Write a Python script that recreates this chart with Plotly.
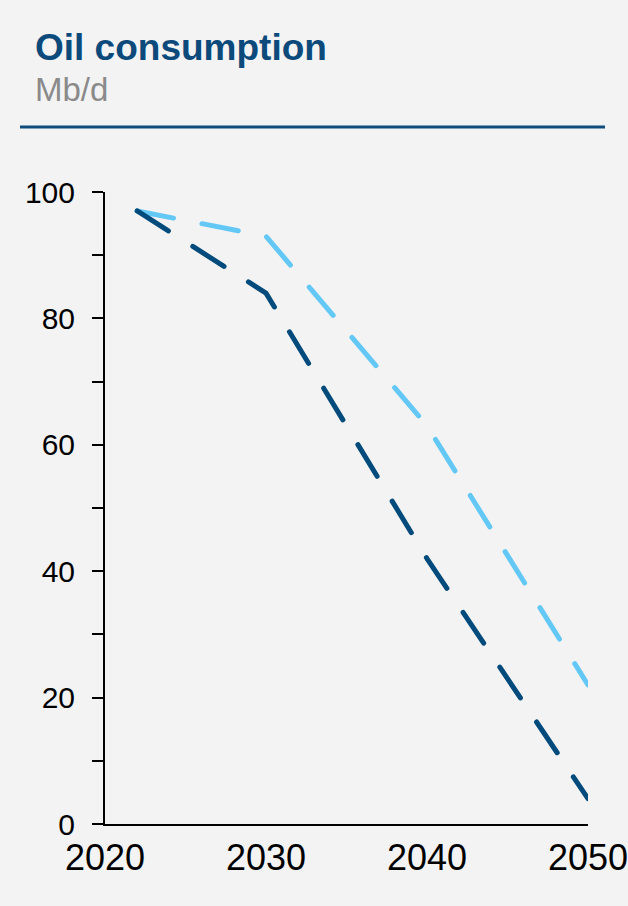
import plotly.graph_objects as go

# ---- data ----
years = [2022, 2030, 2035, 2040, 2045, 2050]
scenario_dark = [97, 84, 63, 42, 23, 4]
scenario_light = [97, 93, 78, 63, 42.5, 22]
x_ticks = [2020, 2030, 2040, 2050]
y_ticks = [0, 20, 40, 60, 80, 100]

title_text = "Oil consumption"
unit_text = "Mb/d"

DARK = "#004A7C"
LIGHT = "#64C8F6"
BG = "#F3F3F3"

W, H = 628, 906
L, R, T, B = 105, 40, 192, 82
PW, PH = W - L - R, H - T - B


def px_x(px):
    return (px - L) / PW


def px_y(py):
    return (H - B - py) / PH


fig = go.Figure()
fig.add_trace(go.Scatter(x=years, y=scenario_light, mode="lines",
                         line=dict(color=LIGHT, width=5, dash="37px,29px"),
                         hoverinfo="skip", showlegend=False))
fig.add_trace(go.Scatter(x=years, y=scenario_dark, mode="lines",
                         line=dict(color=DARK, width=5, dash="37px,29px"),
                         hoverinfo="skip", showlegend=False))

fig.update_layout(
    width=W, height=H, autosize=False,
    margin=dict(l=L, r=R, t=T, b=B, pad=0),
    paper_bgcolor=BG, plot_bgcolor=BG,
    showlegend=False,
    font=dict(family="Liberation Sans, Arial, sans-serif", color="#000000"),
    xaxis=dict(range=[2020, 2050], tickvals=x_ticks, ticktext=[str(v) for v in x_ticks],
               showgrid=False, zeroline=False, showline=True, linecolor="#000000",
               linewidth=2, ticks="", tickfont=dict(size=36, color="#000000"),
               ticklabelstandoff=1, ticklabeloverflow="allow", automargin=False,
               fixedrange=True),
    yaxis=dict(range=[0, 100], tickvals=y_ticks, ticktext=[str(v) for v in y_ticks],
               showgrid=False, zeroline=False, showline=True, linecolor="#000000",
               linewidth=2, ticks="outside", ticklen=11, tickwidth=2, tickcolor="#000000",
               minor=dict(ticks="outside", ticklen=11, tickwidth=2, tickcolor="#000000", dtick=10),
               tickfont=dict(size=30, color="#000000"), ticklabelstandoff=11,
               automargin=False, fixedrange=True),
    shapes=[dict(type="line", xref="paper", yref="paper",
                 x0=px_x(20), x1=px_x(605), y0=px_y(127), y1=px_y(127),
                 line=dict(color="#0E4C7D", width=3))],
    annotations=[
        dict(text="<b>" + title_text + "</b>", xref="paper", yref="paper",
             x=px_x(33), y=px_y(47), xanchor="left", yanchor="middle", showarrow=False,
             font=dict(size=37, color="#0B4A7B", family="Liberation Sans, Arial, sans-serif")),
        dict(text=unit_text, xref="paper", yref="paper",
             x=px_x(33), y=px_y(89), xanchor="left", yanchor="middle", showarrow=False,
             font=dict(size=33, color="#8A8A8A", family="Liberation Sans, Arial, sans-serif")),
    ],
)

post = """
document.body.style.margin = '0px';
document.body.style.overflow = 'hidden';
document.querySelectorAll('.scatterlayer path.js-line').forEach(function(p){
  p.style.strokeLinecap = 'round';
  p.style.strokeLinejoin = 'round';
});
"""

fig.write_html("out.html", config={"displayModeBar": False, "responsive": False},
               post_script=post)
